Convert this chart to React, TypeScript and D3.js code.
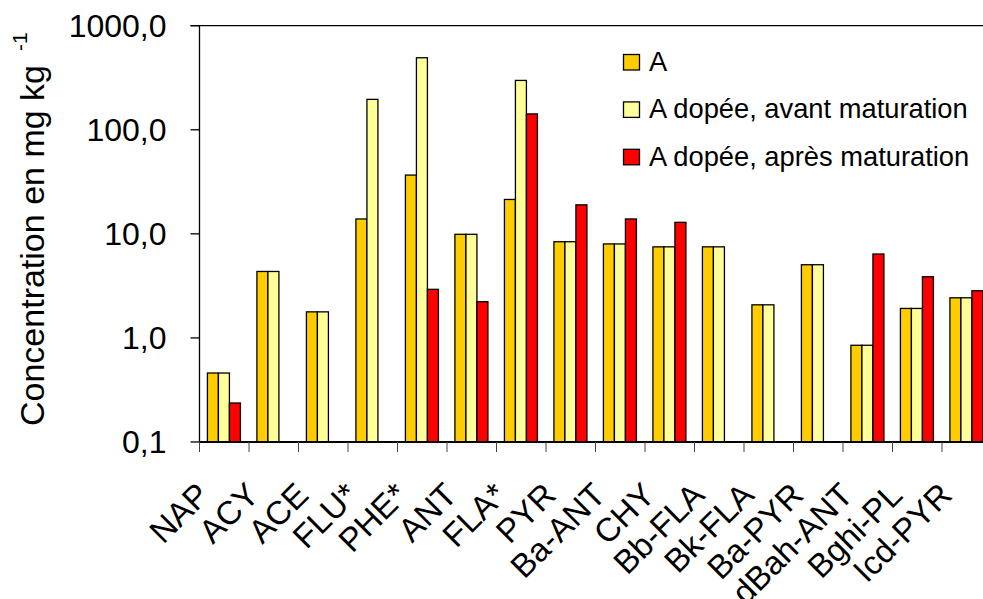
import React from "react";
import * as d3 from "d3";

const categories = ["NAP", "ACY", "ACE", "FLU*", "PHE*", "ANT", "FLA*", "PYR", "Ba-ANT", "CHY", "Bb-FLA", "Bk-FLA", "Ba-PYR", "dBah-ANT", "Bghi-PL", "Icd-PYR"];
const seriesNames = ["A", "A dopée, avant maturation", "A dopée, après maturation"];
const seriesA = [0.46, 4.35, 1.78, 13.9, 36.7, 9.9, 21.4, 8.4, 8.0, 7.5, 7.5, 2.08, 5.05, 0.85, 1.92, 2.43];
const seriesAvant = [0.46, 4.35, 1.78, 196, 492, 9.9, 298, 8.4, 8.0, 7.5, 7.5, 2.08, 5.05, 0.85, 1.92, 2.43];
const seriesApres: (number | null)[] = [0.237, null, null, null, 2.93, 2.23, 142, 19.0, 13.9, 12.9, null, null, null, 6.4, 3.87, 2.84];
const yTicks = [0.1, 1, 10, 100, 1000];
const yTickLabels = ["0,1", "1,0", "10,0", "100,0", "1000,0"];
const colors = ["#FFCC00", "#FFFF99", "#FF0000"];

const W = 983;
const H = 599;
const left = 199.5;
const top = 25.7;
const bottom = 442;
const right = left + 16 * 49.5;
const FONT = "'Liberation Sans', Arial, sans-serif";

export default function App() {
  const y = d3.scaleLog().domain([0.1, 1000]).range([bottom, top]);
  const x = d3.scaleBand<string>().domain(categories).range([left, right]).paddingInner(0).paddingOuter(0);
  const bw = x.bandwidth();
  const barW = bw / 4.5;
  const off = barW * 0.72;
  const all = [seriesA, seriesAvant, seriesApres];

  return (
    <svg width={W} height={H} style={{ position: "absolute", left: 0, top: 0, background: "#fff" }} fontFamily={FONT}>
      <rect x={0} y={0} width={W} height={H} fill="#fff" />
      <line x1={left - 9} x2={right} y1={top} y2={top} stroke="#000" strokeWidth={1.3} />
      {all.map((s, si) =>
        s.map((v, i) =>
          v == null ? null : (
            <rect
              key={`${si}-${i}`}
              x={(x(categories[i]) as number) + off + si * barW}
              y={y(v)}
              width={barW}
              height={bottom - y(v)}
              fill={colors[si]}
              stroke="#000"
              strokeWidth={1.3}
            />
          )
        )
      )}
      <line x1={left} x2={left} y1={top} y2={bottom} stroke="#000" strokeWidth={1.3} />
      {yTicks.map((t, i) => (
        <g key={t}>
          <line x1={left - 9} x2={left} y1={y(t)} y2={y(t)} stroke="#000" strokeWidth={1.3} />
          <text x={166.5} y={y(t) + 11.3} textAnchor="end" fontSize={32} fill="#000">
            {yTickLabels[i]}
          </text>
        </g>
      ))}
      <line x1={left} x2={right} y1={bottom} y2={bottom} stroke="#000" strokeWidth={1.8} />
      {d3.range(categories.length + 1).map((k) => (
        <line key={k} x1={left + k * bw} x2={left + k * bw} y1={bottom} y2={bottom + 10} stroke="#444" strokeWidth={1} />
      ))}
      {categories.map((c) => {
        const cx = (x(c) as number) + bw / 2 - 13;
        const cy = bottom + 55;
        return (
          <text key={c} x={cx} y={cy} transform={`rotate(-45 ${cx} ${cy})`} textAnchor="end" fontSize={33} fill="#000">
            {c}
          </text>
        );
      })}
      <text transform={`translate(44,426) rotate(-90)`} fontSize={34} fill="#000">
        Concentration en mg kg
        <tspan dx={14} dy={-17} fontSize={21}>-1</tspan>
      </text>
      {seriesNames.map((n, i) => (
        <g key={n}>
          <rect x={623.5} y={54.5 + i * 47.4} width={16} height={15.5} fill={colors[i]} stroke="#000" strokeWidth={1.3} />
          <text x={649} y={70.5 + i * 47.6} fontSize={27.3} fill="#000">
            {n}
          </text>
        </g>
      ))}
    </svg>
  );
}
